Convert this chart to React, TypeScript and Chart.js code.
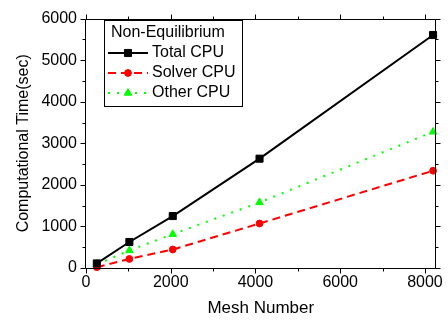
import React, { useEffect, useRef } from "react";
import { Chart, registerables } from "chart.js";

Chart.register(...registerables);

const meshNumbers = [256, 1024, 2048, 4096, 8192];
const totalCpu = [110, 626, 1250, 2630, 5605];
const solverCpu = [20, 218, 445, 1070, 2340];
const otherCpu = [87, 422, 813, 1577, 3275];
const xTicks = [0, 2000, 4000, 6000, 8000];
const yTicks = [0, 1000, 2000, 3000, 4000, 5000, 6000];
const seriesNames = ["Total CPU", "Solver CPU", "Other CPU"];
const legendTitle = "Non-Equilibrium";
const xTitle = "Mesh Number";
const yTitle = "Computational Time(sec)";

const FONT = "'Liberation Sans', Arial, sans-serif";

function drawMarker(ctx: CanvasRenderingContext2D, style: string, r: number, x: number, y: number) {
  ctx.beginPath();
  if (style === "rect") {
    const s = r * Math.SQRT1_2;
    ctx.rect(x - s, y - s, 2 * s, 2 * s);
  } else if (style === "circle") {
    ctx.arc(x, y, r, 0, Math.PI * 2);
  } else {
    const side = r * Math.sqrt(3);
    const hgt = (side * Math.sqrt(3)) / 2;
    ctx.moveTo(x, y - (2 * hgt) / 3);
    ctx.lineTo(x + side / 2, y + hgt / 3);
    ctx.lineTo(x - side / 2, y + hgt / 3);
    ctx.closePath();
  }
  ctx.fill();
  ctx.stroke();
}

const framePlugin = {
  id: "frameTicks",
  afterDraw(chart: any) {
    const { ctx, chartArea: a } = chart;
    const x = chart.scales.x;
    const y = chart.scales.y;
    ctx.save();
    ctx.strokeStyle = "#000";
    ctx.lineWidth = 1;
    ctx.setLineDash([]);
    const L = Math.round(a.left) - 0.5;
    const R = Math.round(a.right) - 0.5;
    const T = Math.round(a.top) + 0.5;
    const B = Math.round(a.bottom) + 0.5;
    ctx.beginPath();
    ctx.rect(L, T, R - L, B - T);
    ctx.stroke();
    ctx.beginPath();
    for (let v = 0; v <= x.max; v += 1000) {
      const px = Math.round(x.getPixelForValue(v)) + 0.5;
      const len = v % 2000 === 0 ? 5 : 3;
      ctx.moveTo(px, B);
      ctx.lineTo(px, B + len);
      ctx.moveTo(px, T);
      ctx.lineTo(px, T - len);
    }
    for (let v = 0; v <= y.max; v += 500) {
      const py = Math.round(y.getPixelForValue(v)) + 0.5;
      const len = v % 1000 === 0 ? 5 : 3;
      ctx.moveTo(L, py);
      ctx.lineTo(L - len, py);
      ctx.moveTo(R, py);
      ctx.lineTo(R + len, py);
    }
    ctx.stroke();
    ctx.restore();
  },
};

const legendPlugin = {
  id: "innerLegend",
  afterDraw(chart: any) {
    const { ctx } = chart;
    const x0 = 104.5;
    const y0 = 20.5;
    const w = 138;
    const h = 86;
    ctx.save();
    ctx.fillStyle = "#fff";
    ctx.fillRect(x0, y0, w, h);
    ctx.strokeStyle = "#000";
    ctx.lineWidth = 1;
    ctx.setLineDash([]);
    ctx.strokeRect(x0, y0, w, h);
    ctx.font = `16px ${FONT}`;
    ctx.fillStyle = "#000";
    ctx.textBaseline = "middle";
    ctx.textAlign = "left";
    ctx.fillText(legendTitle, 111, 33);
    chart.data.datasets.forEach((ds: any, i: number) => {
      const cy = 53 + i * 20;
      ctx.strokeStyle = ds.borderColor;
      ctx.lineWidth = ds.borderWidth;
      ctx.setLineDash(ds.borderDash || []);
      ctx.beginPath();
      ctx.moveTo(108, cy);
      ctx.lineTo(148, cy);
      ctx.stroke();
      ctx.setLineDash([]);
      ctx.fillStyle = ds.pointBackgroundColor;
      ctx.strokeStyle = ds.pointBorderColor;
      ctx.lineWidth = 1;
      drawMarker(ctx, ds.pointStyle, ds.pointRadius, 128, cy);
      ctx.fillStyle = "#000";
      ctx.fillText(ds.label, 152, cy);
    });
    ctx.restore();
  },
};

export default function App() {
  const ref = useRef<HTMLCanvasElement | null>(null);
  useEffect(() => {
    if (!ref.current) return;
    const mk = (i: number, values: number[], color: string, dash: number[], style: string, r: number) => ({
      label: seriesNames[i],
      data: meshNumbers.map((m, k) => ({ x: m, y: values[k] })),
      borderColor: color,
      backgroundColor: color,
      pointBackgroundColor: color,
      pointBorderColor: color,
      borderWidth: 2,
      borderDash: dash,
      pointStyle: style,
      pointRadius: r,
      pointBorderWidth: 1,
      showLine: true,
      fill: false,
      tension: 0,
      clip: false as any,
    });
    const chart = new Chart(ref.current, {
      type: "scatter",
      data: {
        datasets: [
          mk(0, totalCpu, "#000000", [], "rect", 5),
          mk(1, solverCpu, "#ff0000", [8, 5], "circle", 3.4),
          mk(2, otherCpu, "#00ff00", [2, 7], "triangle", 4.4),
        ],
      },
      options: {
        responsive: false,
        animation: false,
        devicePixelRatio: 1,
        layout: { padding: { top: 12, right: 9, left: 0, bottom: 0 } },
        plugins: { legend: { display: false }, tooltip: { enabled: false } },
        scales: {
          x: {
            type: "linear",
            min: 0,
            max: 8250,
            afterFit(s: any) {
              s.height = 56;
            },
            afterBuildTicks(s: any) {
              s.ticks = xTicks.map((v) => ({ value: v }));
            },
            grid: { display: false, drawTicks: false },
            border: { display: false },
            ticks: {
              padding: 5,
              color: "#000",
              font: { family: FONT, size: 16 },
              maxRotation: 0,
              callback: (v: any) => String(v),
            },
            title: {
              display: true,
              text: xTitle,
              color: "#000",
              font: { family: FONT, size: 17 },
              padding: { top: 0, bottom: 5 },
            },
          },
          y: {
            type: "linear",
            min: 0,
            max: 6000,
            afterFit(s: any) {
              s.width = 86;
            },
            afterBuildTicks(s: any) {
              s.ticks = yTicks.map((v) => ({ value: v }));
            },
            grid: { display: false, drawTicks: false },
            border: { display: false },
            ticks: {
              padding: 9,
              color: "#000",
              font: { family: FONT, size: 16 },
              callback: (v: any) => String(v),
            },
            title: {
              display: true,
              text: yTitle,
              color: "#000",
              font: { family: FONT, size: 16 },
              padding: { top: 14, bottom: 0 },
            },
          },
        },
      },
      plugins: [framePlugin, legendPlugin],
    });
    return () => chart.destroy();
  }, []);
  return (
    <div style={{ position: "fixed", left: 0, top: 0, width: 448, height: 324, background: "#fff" }}>
      <canvas ref={ref} width={448} height={324} style={{ display: "block" }} />
    </div>
  );
}
